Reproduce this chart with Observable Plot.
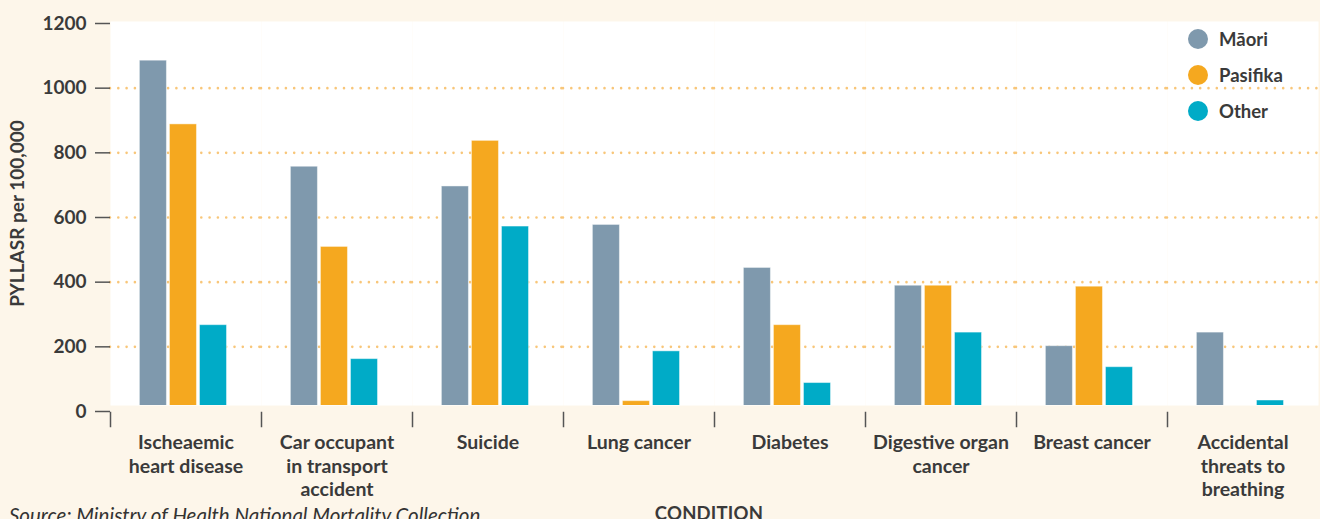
<!DOCTYPE html>
<html>
<head>
<meta charset="utf-8">
<script src="https://cdn.jsdelivr.net/npm/d3@7"></script>
<script src="https://cdn.jsdelivr.net/npm/@observablehq/plot@0.6"></script>
<style>
  html, body { margin: 0; padding: 0; background: #fdf6ea; }
  #wrap { position: relative; width: 1320px; height: 519px; overflow: hidden; font-family: Lato, "Open Sans", sans-serif; color: #3a3a3a; }
  #chart svg { display: block; }
  #legend { position: absolute; left: 1188px; top: 21.5px; }
  .item { display: flex; align-items: center; height: 35.7px; font-size: 18.5px; font-weight: bold; color: #3a3a3a; }
  .dot { width: 20px; height: 20px; border-radius: 50%; margin-right: 11px; }
  #xlabel { position: absolute; left: 609px; width: 200px; text-align: center; top: 503.5px; font-size: 18.5px; font-weight: bold; line-height: 1; letter-spacing: 0.2px; }
  #source { position: absolute; left: 9px; top: 505px; font-size: 20.5px; font-style: italic; line-height: 1; white-space: nowrap; color: #333; }
</style>
</head>
<body>
<div id="wrap">
  <div id="chart"></div>
  <div id="legend"></div>
  <div id="xlabel">CONDITION</div>
  <div id="source">Source: Ministry of Health National Mortality Collection</div>
</div>
<script>
const conditions = [
  "Ischeaemic\nheart disease",
  "Car occupant\nin transport\naccident",
  "Suicide",
  "Lung cancer",
  "Diabetes",
  "Digestive organ\ncancer",
  "Breast cancer",
  "Accidental\nthreats to\nbreathing"
];
const series = ["Māori", "Pasifika", "Other"];
const maori    = [1085, 757, 696, 577, 444, 389, 202, 244];
const pasifika = [888, 509, 837, 32, 267, 389, 386, 0];
const other    = [267, 162, 572, 186, 88, 244, 137, 34];
const colors = ["#7f99ad", "#f5a81f", "#00abc7"];
const yTicks = [0, 200, 400, 600, 800, 1000, 1200];
const gridTicks = [200, 400, 600, 800, 1000];
const yLabel = "PYLLASR per 100,000";

const valuesBySeries = [maori, pasifika, other];
const data = [];
conditions.forEach((c, i) => {
  series.forEach((s, j) => {
    data.push({condition: c, series: s, value: valuesBySeries[j][i]});
  });
});

const chart = Plot.plot({
  width: 1320,
  height: 519,
  marginTop: 21,
  marginBottom: 114,
  marginLeft: 110,
  marginRight: 2,
  style: {background: "transparent", fontFamily: "Lato, 'Open Sans', sans-serif", color: "#3a3a3a", overflow: "visible"},
  fx: {domain: conditions, padding: 0, label: null},
  x: {domain: series, paddingInner: 0.1, paddingOuter: 1.063, align: 0.46, round: false, axis: null},
  y: {domain: [0, 1200], range: [411, 23]},
  color: {domain: series, range: colors},
  marks: [
    Plot.frame({fill: "white", stroke: null}),
    Plot.gridY(gridTicks, {stroke: "#f8c679", strokeOpacity: 1, strokeWidth: 2.6, strokeDasharray: "0 8.3", strokeLinecap: "round"}),
    Plot.barY(data, {fx: "condition", x: "series", y: "value", fill: "series", stroke: "white", strokeOpacity: 0.45, strokeWidth: 1, clip: true}),
    Plot.frame({anchor: "left", stroke: "#555", strokeWidth: 1.5, insetTop: 391, insetBottom: -21}),
    Plot.axisY(yTicks, {tickSize: 15, tickPadding: 9, fontSize: 19, fontWeight: "bold", stroke: "#555", strokeWidth: 1.5, tickFormat: d => String(d), label: yLabel, labelArrow: "none", labelAnchor: "center", labelOffset: 100}),
    Plot.axisFx({anchor: "bottom", tickSize: 0, tickPadding: 26, fontSize: 19.5, fontWeight: "bold", lineHeight: 1.23, label: null})
  ]
});
document.getElementById("chart").appendChild(chart);

const legend = document.getElementById("legend");
series.forEach((s, i) => {
  const row = document.createElement("div");
  row.className = "item";
  const d = document.createElement("span");
  d.className = "dot";
  d.style.background = colors[i];
  const t = document.createElement("span");
  t.textContent = s;
  row.appendChild(d);
  row.appendChild(t);
  legend.appendChild(row);
});
</script>
</body>
</html>
